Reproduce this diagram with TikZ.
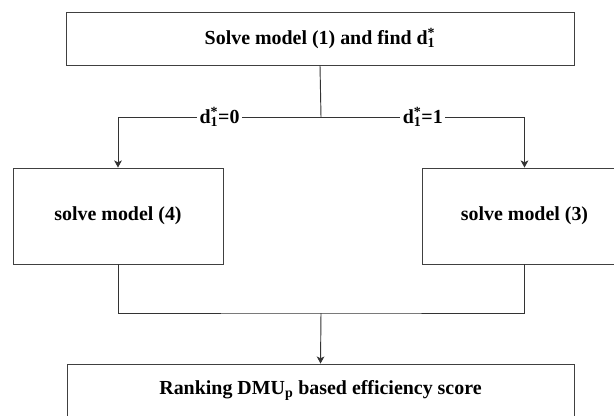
\documentclass[tikz,border=0pt]{standalone}
\usepackage{fontspec}
\setmainfont{Liberation Serif}
\usepackage{tikz}
\usetikzlibrary{arrows.meta}
\newcommand{\dopt}{d\rlap{\textsubscript{1}}\textsuperscript{*}}

\begin{document}
\begin{tikzpicture}[
      x=0.03cm, y=-0.03cm,
      font=\fontsize{17}{20}\selectfont\bfseries,
      process/.style={draw=black!75, line width=0.8pt, rectangle, inner sep=0pt},
      cond/.style={fill=white, inner sep=2pt},
      flow/.style={draw=black!80, line width=0.8pt},
      >={Stealth[length=6pt,width=6.5pt,inset=1.5pt]}
    ]
    \useasboundingbox (0,0) rectangle (614,415);
    \clip (0,0) rectangle (614,415);

    \node[process, minimum width=15.24cm, minimum height=1.59cm] (solve1) at (320,38.5) {Solve model (1) and find \dopt};
    \node[process, minimum width=6.3cm, minimum height=2.88cm] (solve4) at (118,216) {solve model (4)};
    \node[process, minimum width=6.15cm, minimum height=2.88cm] (solve3) at (524.5,216) {solve model (3)};
    \node[process, minimum width=15.21cm, minimum height=1.59cm] (rank) at (320.5,390.5) {Ranking DMU\textsubscript{p} based efficiency score};

    \coordinate (split) at (321,117);
    \coordinate (join) at (321,313);

    \draw[flow] (solve1.south) -- (split);
    \draw[flow,->] (split) -| node[cond, pos=0.25] {\dopt=0} (solve4.north);
    \draw[flow,->] (split) -| node[cond, pos=0.25] {\dopt=1} (solve3.north);

    \draw[flow] (solve4.south) |- (join) -| (solve3.south);
    \draw[flow,->] (join) -- (rank.north);
  \end{tikzpicture}
\end{document}
